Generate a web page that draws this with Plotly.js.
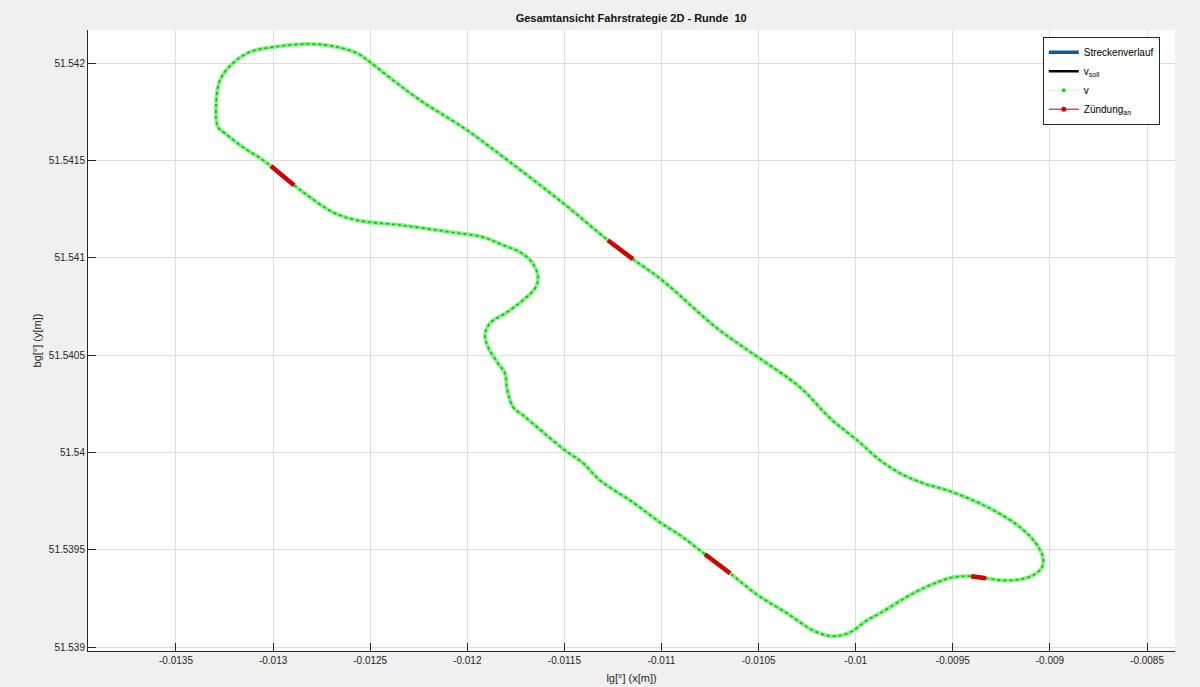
<!DOCTYPE html>
<html>
<head>
<meta charset="utf-8">
<script src="https://cdn.plot.ly/plotly-3.0.1.min.js"></script>
<style>html,body{margin:0;padding:0;background:#f0f0f0;}#chart{width:1200px;height:687px;}</style>
</head>
<body>
<div id="chart"></div>
<script>
// Track (longitude / latitude)
const lg = [
 -0.013011,-0.012892,-0.012810,-0.012692,-0.012568,-0.012347,-0.012089,-0.011919,-0.011816,-0.011729,
 -0.011667,-0.011636,-0.011651,-0.011713,-0.011796,-0.011883,-0.011909,-0.011893,-0.011842,-0.011806,
 -0.011796,-0.011780,-0.011760,-0.011713,-0.011610,-0.011497,-0.011404,-0.011317,-0.011147,-0.011008,
 -0.010905,-0.010776,-0.010647,-0.010503,-0.010354,-0.010220,-0.010122,-0.010029,-0.009942,-0.009875,
 -0.009705,-0.009581,-0.009499,-0.009406,-0.009329,-0.009242,-0.009154,-0.009087,-0.009041,-0.009036,
 -0.009077,-0.009154,-0.009272,-0.009396,-0.009530,-0.009653,-0.009772,-0.009875,-0.009993,-0.010132,
 -0.010287,-0.010503,-0.010714,-0.010997,-0.011147,-0.011276,-0.011507,-0.011780,-0.012002,-0.012244,
 -0.012383,-0.012501,-0.012568,-0.012692,-0.012825,-0.013001,-0.013119,-0.013206,-0.013273,-0.013294,
 -0.013284,-0.013248,-0.013155,-0.013067,-0.013011
];
const bg = [
 51.541471,51.541373,51.541311,51.541234,51.541193,51.541168,51.541132,51.541106,51.541065,51.541029,
 51.540977,51.540900,51.540844,51.540782,51.540720,51.540664,51.540602,51.540541,51.540458,51.540407,
 51.540330,51.540268,51.540227,51.540191,51.540104,51.540011,51.539945,51.539857,51.539744,51.539641,
 51.539575,51.539477,51.539379,51.539266,51.539174,51.539086,51.539056,51.539076,51.539138,51.539174,
 51.539276,51.539333,51.539359,51.539364,51.539354,51.539343,51.539348,51.539369,51.539410,51.539461,
 51.539539,51.539616,51.539693,51.539754,51.539806,51.539842,51.539893,51.539960,51.540063,51.540176,
 51.540335,51.540489,51.540638,51.540885,51.540993,51.541090,51.541281,51.541491,51.541656,51.541810,
 51.541913,51.542005,51.542051,51.542087,51.542098,51.542082,51.542057,51.542000,51.541913,51.541774,
 51.541671,51.541640,51.541568,51.541512,51.541471
];
// Ignition (Zündung an) segments
const zLg = [-0.013011,-0.012892,null,-0.010776,-0.010647,null,-0.009406,-0.009329,null,-0.011276,-0.011147];
const zBg = [51.541471,51.541373,null,51.539477,51.539379,null,51.539364,51.539354,null,51.541090,51.540993];

const xTicks = [-0.0135,-0.013,-0.0125,-0.012,-0.0115,-0.011,-0.0105,-0.01,-0.0095,-0.009,-0.0085];
const xTickText = ['-0.0135','-0.013','-0.0125','-0.012','-0.0115','-0.011','-0.0105','-0.01','-0.0095','-0.009','-0.0085'];
const yTicks = [51.539,51.5395,51.54,51.5405,51.541,51.5415,51.542];
const yTickText = ['51.539','51.5395','51.54','51.5405','51.541','51.5415','51.542'];

const traces = [
  {x:[null], y:[null], mode:'lines', name:'Streckenverlauf', line:{color:'#0b5a9c', width:3.5}},
  {x:[null], y:[null], mode:'lines', name:'v<sub>soll</sub>', line:{color:'#000000', width:2.5}},
  {x:[null], y:[null], mode:'lines+markers', name:'v', line:{color:'#d8f4d8', width:1}, marker:{color:'#22cc22', size:4}},
  {x:[null], y:[null], mode:'lines+markers', name:'Zündung<sub>an</sub>', line:{color:'#c05a6a', width:1.5}, marker:{color:'#cc0000', size:5}},
  {x:lg, y:bg, mode:'lines', showlegend:false, hoverinfo:'skip', line:{color:'#86f286', width:4, shape:'spline', smoothing:1}},
  {x:lg, y:bg, mode:'lines', showlegend:false, line:{color:'#0cbf0c', width:1.6, dash:'dot', shape:'spline', smoothing:1}},
  {x:zLg, y:zBg, mode:'lines', showlegend:false, line:{color:'#d40000', width:4.5}}
];

const axisCommon = {
  showgrid:true, gridcolor:'#dedede', gridwidth:1, zeroline:false,
  showline:true, linecolor:'#262626', linewidth:1,
  ticks:'inside', ticklen:8, tickcolor:'#262626', tickwidth:1,
  tickfont:{family:'Liberation Sans, Arial, sans-serif', size:10, color:'#262626'},
  tickmode:'array'
};

const layout = {
  width:1200, height:687,
  paper_bgcolor:'#f0f0f0', plot_bgcolor:'#ffffff',
  margin:{l:88, r:25, t:30, b:36},
  title:{text:'<b>Gesamtansicht Fahrstrategie 2D - Runde  10</b>', x:0.526, xanchor:'center', y:0.974, yanchor:'middle',
         font:{family:'Liberation Sans, Arial, sans-serif', size:11, color:'#111'}},
  xaxis:Object.assign({}, axisCommon, {
    range:[-0.013953,-0.008356], tickvals:xTicks, ticktext:xTickText,
    title:{text:'lg[°] (x[m])', standoff:9, font:{family:'Liberation Sans, Arial, sans-serif', size:11, color:'#262626'}}
  }),
  yaxis:Object.assign({}, axisCommon, {
    range:[51.53898,51.54217], tickvals:yTicks, ticktext:yTickText,
    title:{text:'bg[°] (y[m])', standoff:4, font:{family:'Liberation Sans, Arial, sans-serif', size:11, color:'#262626'}}
  }),
  legend:{x:0.986, xanchor:'right', y:0.989, yanchor:'top', bgcolor:'#ffffff', bordercolor:'#262626', borderwidth:1,
          font:{family:'Liberation Sans, Arial, sans-serif', size:10, color:'#000'}, tracegroupgap:0, itemwidth:30},
  showlegend:true
};

Plotly.newPlot('chart', traces, layout, {displayModeBar:false, staticPlot:true});
</script>
</body>
</html>
